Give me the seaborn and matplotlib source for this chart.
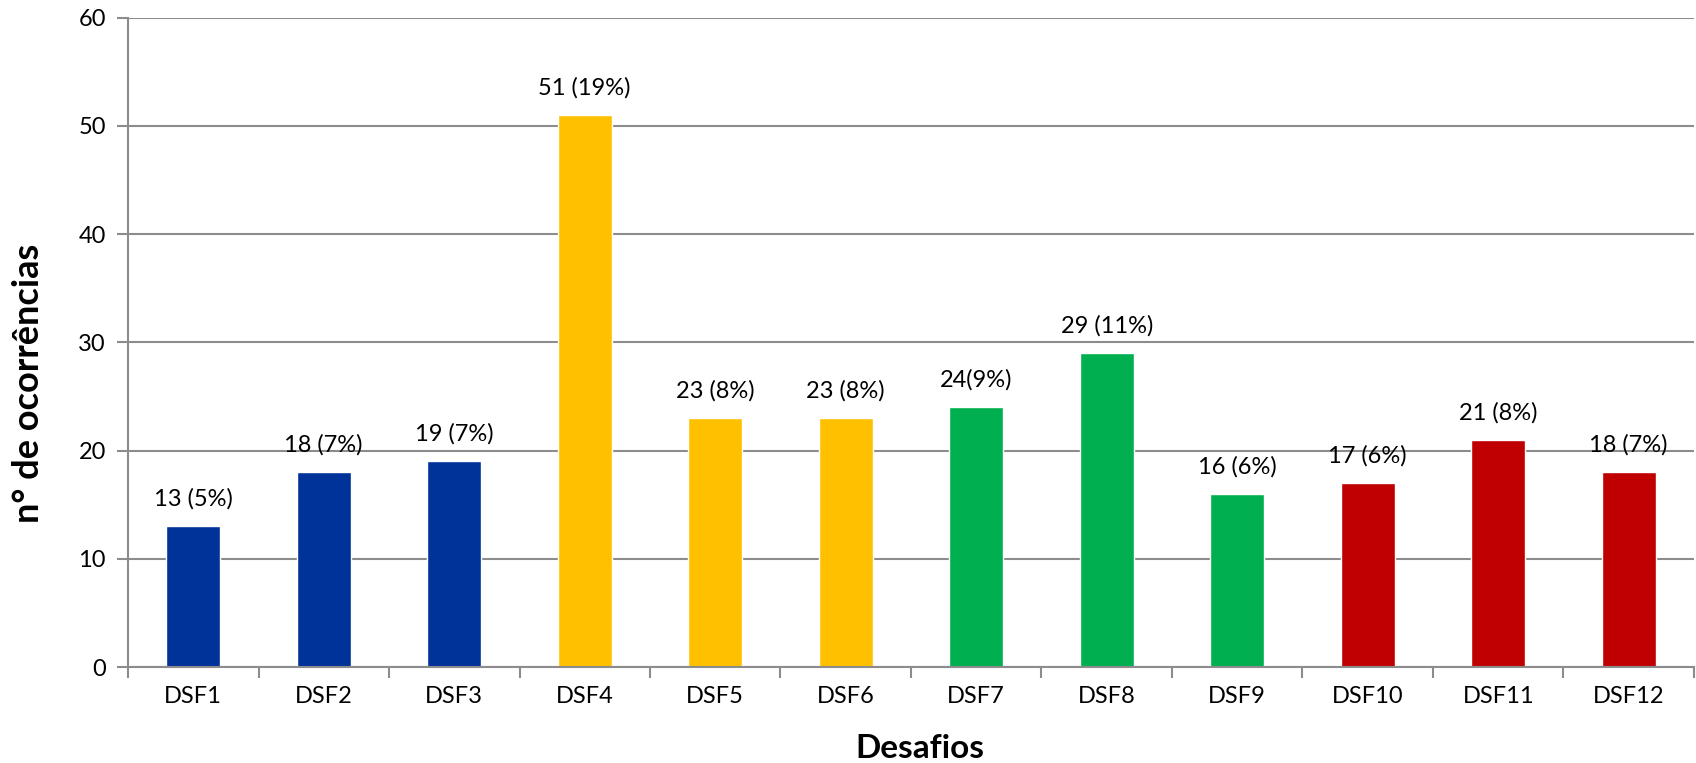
import matplotlib
matplotlib.use("Agg")
import matplotlib.pyplot as plt
import seaborn as sns
import pandas as pd
import numpy as np

categories = ["DSF1", "DSF2", "DSF3", "DSF4", "DSF5", "DSF6",
              "DSF7", "DSF8", "DSF9", "DSF10", "DSF11", "DSF12"]
values = [13, 18, 19, 51, 23, 23, 24, 29, 16, 17, 21, 18]
value_labels = ["13 (5%)", "18 (7%)", "19 (7%)", "51 (19%)", "23 (8%)", "23 (8%)",
                "24(9%)", "29 (11%)", "16 (6%)", "17 (6%)", "21 (8%)", "18 (7%)"]
bar_colors = ["#003399", "#003399", "#003399",
              "#FFC000", "#FFC000", "#FFC000",
              "#00B050", "#00B050", "#00B050",
              "#C00000", "#C00000", "#C00000"]
y_ticks = [0, 10, 20, 30, 40, 50, 60]
x_title = "Desafios"
y_title = "n° de ocorrências"

sns.set_theme(style="white")
plt.rcParams['font.family'] = ['Lato', 'DejaVu Sans']

df = pd.DataFrame({"cat": categories, "val": values})

fig = plt.figure(figsize=(16.96, 7.63), dpi=100)
ax = fig.add_axes([128/1696, 1 - 667/763, (1694-128)/1696, (667-17.5)/763])

sns.barplot(data=df, x="cat", y="val", hue="cat", palette=bar_colors,
            order=categories, hue_order=categories, width=0.41,
            legend=False, ax=ax, saturation=1)

grid_c = "#8C8C8C"
ax.set_ylim(0, 60)
ax.set_xlim(-0.5, len(categories) - 0.5)
ax.set_yticks(y_ticks)
ax.yaxis.grid(True, color=grid_c, linewidth=1.5)
ax.set_axisbelow(True)

for s in ["top", "right"]:
    ax.spines[s].set_visible(False)
for s in ["left", "bottom"]:
    ax.spines[s].set_color(grid_c)
    ax.spines[s].set_linewidth(1.5)

ax.tick_params(axis="y", which="major", left=True, length=8, width=1.5,
               color=grid_c, labelsize=17, pad=8, labelcolor="black")
ax.tick_params(axis="x", which="major", bottom=False, length=0,
               labelsize=17, pad=14, labelcolor="black")
ax.set_xticks(np.arange(-0.5, len(categories), 1.0), minor=True)
ax.tick_params(axis="x", which="minor", bottom=True, length=8, width=1.5,
               color=grid_c)

for i, (v, lab) in enumerate(zip(values, value_labels)):
    ax.annotate(lab, xy=(i, v), xytext=(0, 19.5), textcoords="offset points",
                ha="center", va="center", fontsize=17, color="black")

ax.set_xlabel(x_title, fontsize=24, fontweight="bold", color="black")
ax.set_ylabel(y_title, fontsize=26, fontweight="bold", color="black")
ax.xaxis.set_label_coords((920-128)/(1694-128), -(748-667)/(667-17.5))
ax.yaxis.set_label_coords(-(128-29)/(1694-128), (667-383)/(667-17.5))
ax.xaxis.label.set_va("center")
ax.yaxis.label.set_va("center")

fig.savefig("out.png", dpi=100, facecolor="white")
